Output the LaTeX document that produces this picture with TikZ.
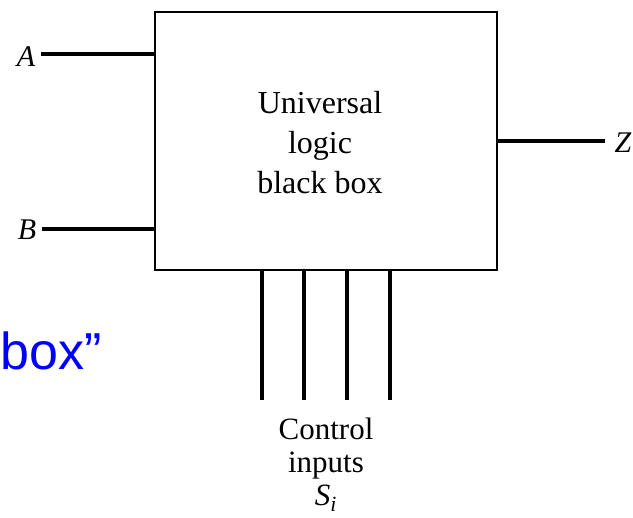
\documentclass[tikz,border=0pt]{standalone}
\usepackage{fontspec}
\setmainfont{Liberation Serif}
\newfontfamily\arialfont{Liberation Sans}
\definecolor{pureblue}{RGB}{0,0,255}
\begin{document}
\begin{tikzpicture}[x=1pt,y=-1pt,
  wire/.style={line width=3.2pt},
  boxstyle/.style={draw,line width=1.6pt,minimum width=342pt,minimum height=258pt,inner sep=0pt},
  lbl/.style={font=\fontsize{30}{34}\selectfont\itshape,inner sep=0pt},
  body/.style={font=\fontsize{32}{40}\selectfont,align=center,inner sep=0pt}]
\useasboundingbox (0,0) rectangle (633,518);
\node[boxstyle] (box) at (326,141) {};
\node[body] (txt) at (320,143) {Universal\\logic\\black box};
\node[lbl] (A) at (26,57) {A};
\node[lbl] (B) at (27,230) {B};
\node[lbl] (Z) at (623,143) {Z};
\coordinate (Aend) at (155,54);
\coordinate (Bend) at (155,229);
\coordinate (Zstart) at (497,141);
\draw[wire] (A.east) ++(6,-3) coordinate (Abeg) -- (Aend);
\draw[wire] (B.east) ++(6,-1) coordinate (Bbeg) -- (Bend);
\coordinate (Zend) at (605,141);
\draw[wire] (Zstart) -- (Zend);
\foreach \i/\x in {1/262,2/304,3/347,4/390}{
  \coordinate (ct\i) at (\x,270);
  \coordinate (cb\i) at (\x,400);
  \draw[wire,line width=3.6pt] (ct\i) -- (cb\i);
}
\node[body,font=\fontsize{31}{33}\selectfont] (ctrl) at (326,465) {Control\\inputs\\\textit{S}\textsubscript{\textit{i}}};
\node[font=\arialfont\fontsize{52}{60}\selectfont,text=pureblue,anchor=base west,inner sep=0pt] (bx) at (0,370) {box”};
\end{tikzpicture}
\end{document}
